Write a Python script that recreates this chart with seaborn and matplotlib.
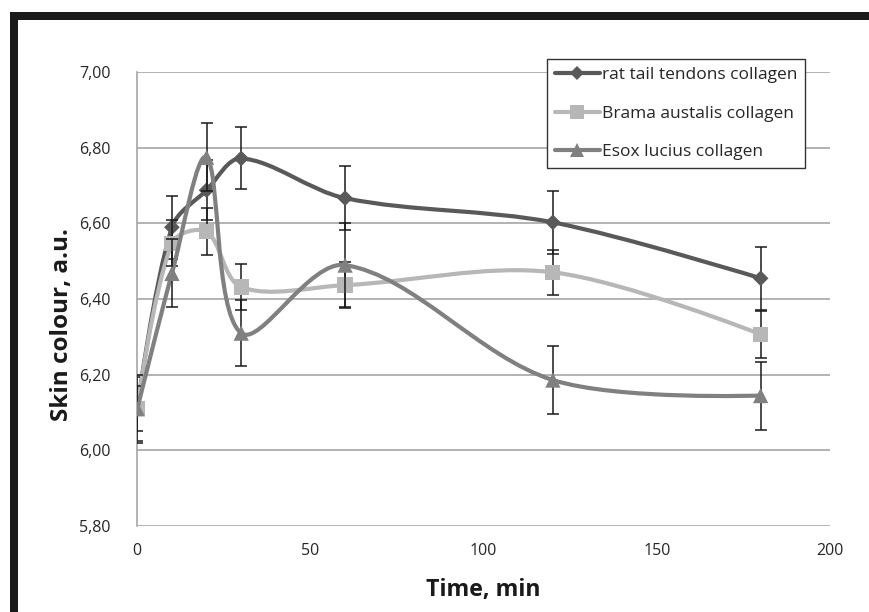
import numpy as np
import pandas as pd
import matplotlib
matplotlib.use("Agg")
import matplotlib.pyplot as plt
import seaborn as sns
from matplotlib.path import Path
from matplotlib.patches import PathPatch, Rectangle
from matplotlib.lines import Line2D
from matplotlib.ticker import FuncFormatter

time_min = [0, 10, 20, 30, 60, 120, 180]
rat_tail = [6.11, 6.59, 6.688, 6.772, 6.667, 6.603, 6.455]
rat_err = [0.085, 0.083, 0.08, 0.082, 0.084, 0.083, 0.083]
brama = [6.11, 6.548, 6.578, 6.432, 6.437, 6.471, 6.307]
brama_err = [0.06, 0.06, 0.062, 0.06, 0.06, 0.059, 0.062]
esox = [6.11, 6.468, 6.775, 6.31, 6.49, 6.186, 6.145]
esox_err = [0.09, 0.09, 0.09, 0.087, 0.11, 0.089, 0.09]

series_names = ["rat tail tendons collagen", "Brama austalis collagen", "Esox lucius collagen"]
series_colors = ["#595959", "#b7b7b7", "#808080"]
series_markers = ["D", "s", "^"]
marker_sizes = [8, 11, 11]

rows = []
for name, vals, errs in zip(series_names, [rat_tail, brama, esox], [rat_err, brama_err, esox_err]):
    for t, v, e in zip(time_min, vals, errs):
        rows.append({"time": t, "value": v, "err": e, "series": name})
df = pd.DataFrame(rows)

sns.set_theme(style="white")
plt.rcParams["font.family"] = ["Open Sans", "DejaVu Sans"]

fig = plt.figure(figsize=(8.69, 6.12), dpi=100)
ax = fig.add_axes([0.158, 0.1405, 0.797, 0.7415])

# pixel scale of the axes, used so the smoothing works in screen space
SX = 693 / 200.0
SY = 454 / 1.2


def smooth_path(xs, ys):
    # Excel-like smoothed line: cubic Bezier, tangents weighted by chord length
    pts = np.column_stack([np.asarray(xs) * SX, np.asarray(ys) * SY]).astype(float)
    n = len(pts)
    verts = [pts[0]]
    codes = [Path.MOVETO]
    for i in range(n - 1):
        p0 = pts[i - 1] if i > 0 else pts[i]
        p1 = pts[i]
        p2 = pts[i + 1]
        p3 = pts[i + 2] if i + 2 < n else pts[i + 1]
        d01 = np.linalg.norm(p1 - p0)
        d12 = np.linalg.norm(p2 - p1)
        d23 = np.linalg.norm(p3 - p2)
        f1 = d12 / (d01 + d12) / 1.5 if d01 > 0 else 0.0
        f2 = d12 / (d12 + d23) / 1.5 if d23 > 0 else 0.0
        c1 = p1 + (p2 - p0) * f1 / 2.0
        c2 = p2 - (p3 - p1) * f2 / 2.0
        verts += [c1, c2, p2]
        codes += [Path.CURVE4] * 3
    verts = np.array(verts) / np.array([SX, SY])
    return Path(verts, codes)


for i, name in enumerate(series_names):
    d = df[df["series"] == name]
    ax.add_patch(PathPatch(smooth_path(d["time"], d["value"]), fill=False,
                           edgecolor=series_colors[i], lw=3.0, zorder=2 + i,
                           capstyle="round", joinstyle="round"))
    ax.errorbar(d["time"], d["value"], yerr=d["err"], fmt="none", ecolor="#1a1a1a",
                elinewidth=1.1, capsize=4, capthick=1.1, zorder=2.5 + i)
    sns.scatterplot(data=d, x="time", y="value", marker=series_markers[i],
                    s=marker_sizes[i] ** 2, color=series_colors[i], edgecolor="none",
                    ax=ax, zorder=2.6 + i, legend=False)

ax.set_xlim(0, 200)
ax.set_ylim(5.8, 7.0)
ax.set_xticks([0, 50, 100, 150, 200])
ax.set_yticks([5.8, 6.0, 6.2, 6.4, 6.6, 6.8, 7.0])
ax.yaxis.set_major_formatter(FuncFormatter(lambda v, p: f"{v:.2f}".replace(".", ",")))
ax.grid(axis="y", color="#a6a6a6", lw=1.2)
ax.set_axisbelow(True)
for s in ["top", "right", "bottom"]:
    ax.spines[s].set_visible(False)
ax.spines["left"].set_color("#a6a6a6")
ax.spines["left"].set_linewidth(1.2)
ax.tick_params(axis="both", length=0, labelsize=11.5, colors="#262626")
ax.tick_params(axis="y", pad=19)
ax.tick_params(axis="x", pad=12)

ax.set_xlabel("Time, min", fontsize=16.7, fontweight="bold", labelpad=14, color="#1a1a1a")
ax.set_ylabel("Skin colour, a.u.", fontsize=17.5, fontweight="bold", color="#1a1a1a")
ax.yaxis.set_label_coords(-0.092, 0.445)

handles = [Line2D([0], [0], color=c, lw=3, marker=m, markersize=ms * 0.9, markeredgewidth=0)
           for c, m, ms in zip(series_colors, series_markers, marker_sizes)]
leg = ax.legend(handles, series_names, loc="upper right", bbox_to_anchor=(0.926, 0.9036),
                bbox_transform=fig.transFigure, borderaxespad=0, fontsize=12.5,
                handlelength=2.6, handletextpad=0.1, labelspacing=1.3,
                fancybox=False, framealpha=1, borderpad=0.45)
leg.get_frame().set_edgecolor("#333333")
leg.get_frame().set_linewidth(1.0)
leg.set_zorder(10)

# black page frame (top and left)
fig.add_artist(Rectangle((10 / 869, 0), 8 / 869, 1 - 12 / 612, transform=fig.transFigure,
                         color="#1a1a1a", lw=0))
fig.add_artist(Rectangle((10 / 869, 1 - 20 / 612), 1, 8 / 612, transform=fig.transFigure,
                         color="#1a1a1a", lw=0))

fig.savefig("out.png", dpi=100)
